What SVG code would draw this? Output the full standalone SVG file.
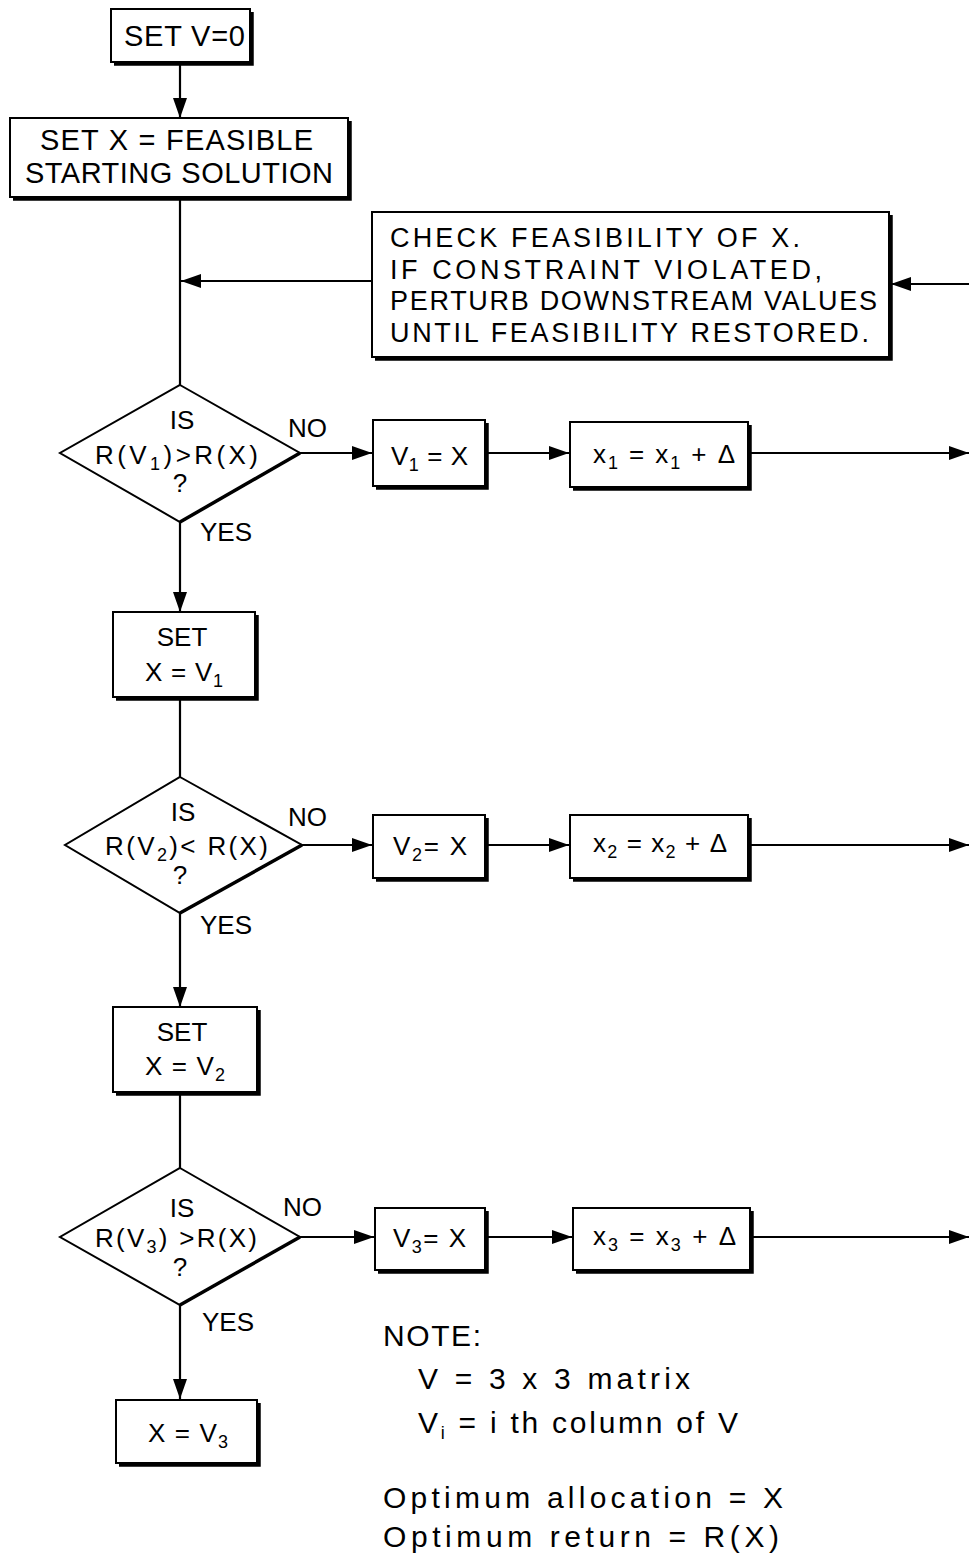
<svg xmlns="http://www.w3.org/2000/svg" width="969" height="1554" viewBox="0 0 969 1554">
<style>
text{font-family:"Liberation Sans","DejaVu Sans",sans-serif;fill:#000;font-size:26px}
.c{text-anchor:middle}
.box{fill:#fff;stroke:#000;stroke-width:2}
.sh{fill:none;stroke:#000;stroke-width:3.5}
.ln{fill:none;stroke:#000;stroke-width:2.2}
.sub{font-size:18px}
.big{font-size:29px}
.chk{font-size:27px}
.dm{font-size:26px}
.nt{font-size:30px}
</style>
<defs>
<marker id="ah" markerUnits="userSpaceOnUse" markerWidth="22" markerHeight="14" refX="20" refY="7" orient="auto">
<path d="M0,0 L20,7 L0,14 Z" fill="#000"/>
</marker>
</defs>
<rect width="969" height="1554" fill="#fff"/>
<g id="connectors">
<line class="ln" x1="180" y1="62" x2="180" y2="118" marker-end="url(#ah)"/>
<line class="ln" x1="180" y1="198" x2="180" y2="385"/>
<line class="ln" x1="372" y1="281" x2="181" y2="281" marker-end="url(#ah)"/>
<line class="ln" x1="969" y1="284" x2="891" y2="284" marker-end="url(#ah)"/>
<line class="ln" x1="300" y1="453" x2="372" y2="453" marker-end="url(#ah)"/>
<line class="ln" x1="486" y1="453" x2="569" y2="453" marker-end="url(#ah)"/>
<line class="ln" x1="750" y1="453" x2="969" y2="453" marker-end="url(#ah)"/>
<line class="ln" x1="180" y1="522" x2="180" y2="612" marker-end="url(#ah)"/>
<line class="ln" x1="180" y1="698" x2="180" y2="777"/>
<line class="ln" x1="302" y1="845" x2="372" y2="845" marker-end="url(#ah)"/>
<line class="ln" x1="486" y1="845" x2="569" y2="845" marker-end="url(#ah)"/>
<line class="ln" x1="750" y1="845" x2="969" y2="845" marker-end="url(#ah)"/>
<line class="ln" x1="180" y1="913" x2="180" y2="1007" marker-end="url(#ah)"/>
<line class="ln" x1="180" y1="1093" x2="180" y2="1168"/>
<line class="ln" x1="300" y1="1237" x2="374" y2="1237" marker-end="url(#ah)"/>
<line class="ln" x1="487" y1="1237" x2="572" y2="1237" marker-end="url(#ah)"/>
<line class="ln" x1="752" y1="1237" x2="969" y2="1237" marker-end="url(#ah)"/>
<line class="ln" x1="180" y1="1305" x2="180" y2="1399" marker-end="url(#ah)"/>
</g>
<g id="setv0">
<rect class="box" x="111" y="9" width="139" height="53"/>
<polyline class="sh" points="252,12 252,64 114,64"/>
<text x="124" y="46" class="big" textLength="121">SET V=0</text>
</g>
<g id="setx">
<rect class="box" x="10" y="118" width="338" height="79"/>
<polyline class="sh" points="350,121 350,199 13,199"/>
<text x="40" y="150" class="big" textLength="273">SET X = FEASIBLE</text>
<text x="25" y="183" class="big" textLength="308">STARTING SOLUTION</text>
</g>
<g id="check">
<rect class="box" x="372" y="212" width="517" height="145"/>
<polyline class="sh" points="891,215 891,359 375,359"/>
<text x="390" y="247" class="chk" textLength="410">CHECK FEASIBILITY OF X.</text>
<text x="390" y="279" class="chk" textLength="432">IF CONSTRAINT VIOLATED,</text>
<text x="390" y="310" class="chk" textLength="487">PERTURB DOWNSTREAM VALUES</text>
<text x="390" y="342" class="chk" textLength="479">UNTIL FEASIBILITY RESTORED.</text>
</g>
<g id="d1">
<polygon class="box" points="180,385 300,453 180,522 60,453"/>
<line class="sh" x1="300" y1="453" x2="180" y2="522"/>
<text x="182" y="429" class="c dm">IS</text>
<text x="95" y="464" class="dm" textLength="163">R(V<tspan class="sub" dy="6">1</tspan><tspan dy="-6">)&gt;R(X)</tspan></text>
<text x="180" y="492" class="c dm">?</text>
<text x="288" y="437" class="dm">NO</text>
<text x="200" y="541" class="dm">YES</text>
</g>
<g id="v1x">
<rect class="box" x="373" y="420" width="112" height="66"/>
<polyline class="sh" points="487,423 487,488 376,488"/>
<text x="391" y="465" class="dm" textLength="77">V<tspan class="sub" dy="6">1</tspan><tspan dy="-6"> = X</tspan></text>
</g>
<g id="x1">
<rect class="box" x="570" y="422" width="178" height="65"/>
<polyline class="sh" points="750,425 750,489 573,489"/>
<text x="593" y="463" class="dm" textLength="142">x<tspan class="sub" dy="6">1</tspan><tspan dy="-6"> = x</tspan><tspan class="sub" dy="6">1</tspan><tspan dy="-6"> + Δ</tspan></text>
</g>
<g id="setxv1">
<rect class="box" x="113" y="612" width="142" height="85"/>
<polyline class="sh" points="257,615 257,699 116,699"/>
<text x="182" y="646" class="c dm">SET</text>
<text x="145" y="681" class="dm" textLength="78">X = V<tspan class="sub" dy="6">1</tspan></text>
</g>
<g id="d2">
<polygon class="box" points="180,777 302,845 180,913 65,845"/>
<line class="sh" x1="302" y1="845" x2="180" y2="913"/>
<text x="183" y="821" class="c dm">IS</text>
<text x="105" y="855" class="dm" textLength="163">R(V<tspan class="sub" dy="6">2</tspan><tspan dy="-6">)&lt; R(X)</tspan></text>
<text x="180" y="884" class="c dm">?</text>
<text x="288" y="826" class="dm">NO</text>
<text x="200" y="934" class="dm">YES</text>
</g>
<g id="v2x">
<rect class="box" x="373" y="815" width="112" height="63"/>
<polyline class="sh" points="487,818 487,880 376,880"/>
<text x="393" y="855" class="dm" textLength="74">V<tspan class="sub" dy="6">2</tspan><tspan dy="-6">= X</tspan></text>
</g>
<g id="x2">
<rect class="box" x="570" y="815" width="178" height="63"/>
<polyline class="sh" points="750,818 750,880 573,880"/>
<text x="593" y="852" class="dm" textLength="134">x<tspan class="sub" dy="6">2</tspan><tspan dy="-6"> = x</tspan><tspan class="sub" dy="6">2</tspan><tspan dy="-6"> + Δ</tspan></text>
</g>
<g id="setxv2">
<rect class="box" x="113" y="1007" width="144" height="85"/>
<polyline class="sh" points="259,1010 259,1094 116,1094"/>
<text x="182" y="1041" class="c dm">SET</text>
<text x="145" y="1075" class="dm" textLength="80">X = V<tspan class="sub" dy="6">2</tspan></text>
</g>
<g id="d3">
<polygon class="box" points="180,1168 300,1237 180,1305 60,1237"/>
<line class="sh" x1="300" y1="1237" x2="180" y2="1305"/>
<text x="182" y="1217" class="c dm">IS</text>
<text x="95" y="1247" class="dm" textLength="162">R(V<tspan class="sub" dy="6">3</tspan><tspan dy="-6">) &gt;R(X)</tspan></text>
<text x="180" y="1276" class="c dm">?</text>
<text x="283" y="1216" class="dm">NO</text>
<text x="202" y="1331" class="dm">YES</text>
</g>
<g id="v3x">
<rect class="box" x="375" y="1208" width="110" height="62"/>
<polyline class="sh" points="487,1211 487,1272 378,1272"/>
<text x="393" y="1247" class="dm" textLength="73">V<tspan class="sub" dy="6">3</tspan><tspan dy="-6">= X</tspan></text>
</g>
<g id="x3">
<rect class="box" x="573" y="1208" width="177" height="62"/>
<polyline class="sh" points="752,1211 752,1272 576,1272"/>
<text x="593" y="1245" class="dm" textLength="143">x<tspan class="sub" dy="6">3</tspan><tspan dy="-6"> = x</tspan><tspan class="sub" dy="6">3</tspan><tspan dy="-6"> + Δ</tspan></text>
</g>
<g id="xv3">
<rect class="box" x="116" y="1400" width="141" height="63"/>
<polyline class="sh" points="259,1403 259,1465 119,1465"/>
<text x="148" y="1442" class="dm" textLength="80">X = V<tspan class="sub" dy="6">3</tspan></text>
</g>
<g id="note">
<text x="383" y="1346" class="nt" textLength="98">NOTE:</text>
<text x="418" y="1389" class="nt" textLength="272">V = 3 x 3 matrix</text>
<text x="418" y="1433" class="nt" textLength="320">V<tspan class="sub" dy="6">i</tspan><tspan dy="-6"> =  i th column of V</tspan></text>
<text x="383" y="1508" class="nt" textLength="400">Optimum allocation = X</text>
<text x="383" y="1547" class="nt" textLength="396">Optimum return = R(X)</text>
</g>
</svg>
